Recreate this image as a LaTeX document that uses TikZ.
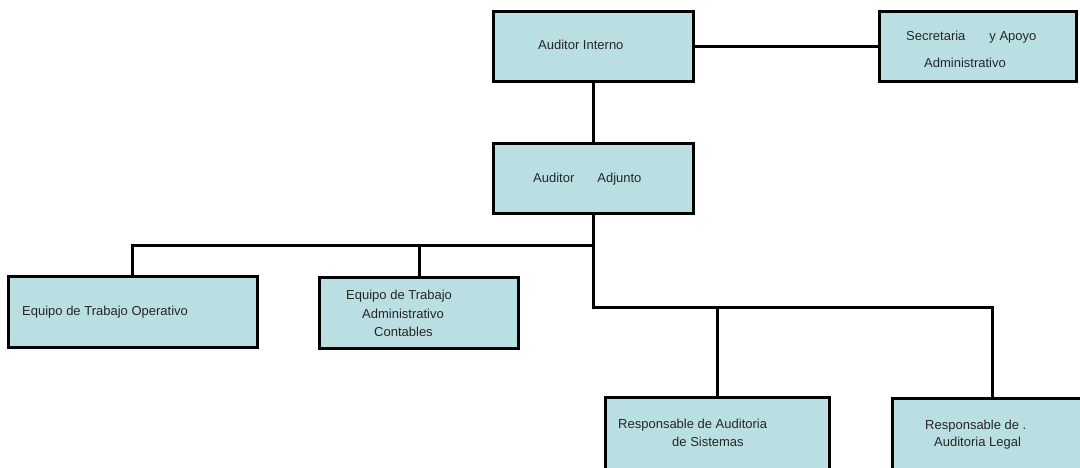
\documentclass[tikz,border=0pt]{standalone}
\usepackage{fontspec}
\setmainfont{Liberation Sans}
\definecolor{boxfill}{RGB}{186,223,227}
\begin{document}
\begin{tikzpicture}[x=1pt,y=-1pt,
  orgbox/.style={draw=black, line width=3pt, fill=boxfill, inner sep=0pt, outer sep=0pt},
  conn/.style={draw=black, line width=3pt, line cap=rect},
  lbl/.style={anchor=mid west, inner sep=0pt, font=\fontsize{13}{15}\selectfont, text=black!85}]
\clip (0,0) rectangle (1080,468);
\fill[white] (0,0) rectangle (1080,468);
% boxes
\node[orgbox, minimum width=200pt, minimum height=70pt] (ai) at (593,47) {};
\node[orgbox, minimum width=197pt, minimum height=70pt] (sec) at (977.5,47) {};
\node[orgbox, minimum width=200pt, minimum height=70pt] (adj) at (593,179) {};
\node[orgbox, minimum width=249pt, minimum height=71pt] (op) at (132.5,311.5) {};
\node[orgbox, minimum width=199pt, minimum height=71pt] (adm) at (419,312.5) {};
\node[orgbox, minimum width=224pt, minimum height=100pt] (sis) at (717,447) {};
\node[orgbox, minimum width=200pt, minimum height=100pt] (leg) at (992,448) {};
% junction points
\coordinate (b1) at (593,245);
\coordinate (b2) at (593,307);
% connectors
\draw[conn] (ai.east) -- (sec.west);
\draw[conn] (ai.south) -- (adj.north);
\draw[conn] (adj.south) -- (b2);
\draw[conn] (op.north) |- (b1);
\draw[conn] (adm.north) |- (b1);
\draw[conn] (sis.north) |- (b2);
\draw[conn] (leg.north) |- (b2);
% labels
\node[lbl] (t1) at (538,47) {Auditor Interno};
\node[lbl] (t2) at (906,38) {Secretaria\hspace{24pt}y Apoyo};
\node[lbl] (t3) at (924,65) {Administrativo};
\node[lbl] (t4) at (533,180) {Auditor\hspace{23pt}Adjunto};
\node[lbl] (t5) at (22,313) {Equipo de Trabajo Operativo};
\node[lbl] (t6) at (346,297) {Equipo de Trabajo};
\node[lbl] (t7) at (362,316) {Administrativo};
\node[lbl] (t8) at (374,334) {Contables};
\node[lbl] (t9) at (618,426) {Responsable de Auditoria};
\node[lbl] (t10) at (672,444) {de Sistemas};
\node[lbl] (t11) at (925,427) {Responsable de .};
\node[lbl] (t12) at (934,444) {Auditoria Legal};
\end{tikzpicture}
\end{document}
